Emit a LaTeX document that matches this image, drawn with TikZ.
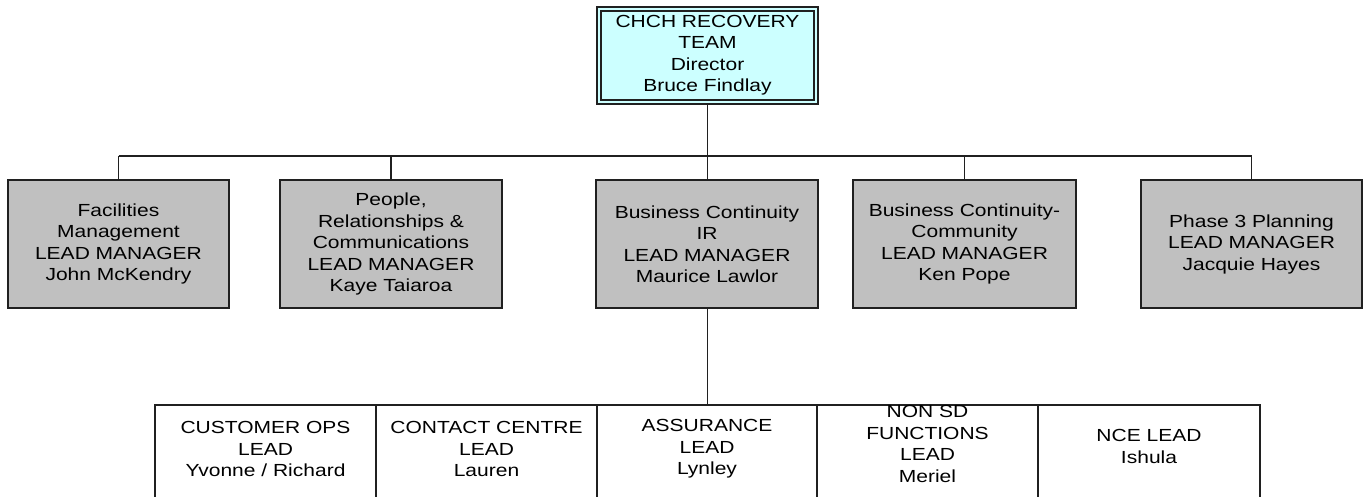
\documentclass[tikz,border=0pt]{standalone}
\usepackage{fontspec}
\setmainfont{Liberation Sans}[FakeStretch=1.2]
\definecolor{topfill}{HTML}{CCFFFF}
\definecolor{midfill}{HTML}{C0C0C0}
\definecolor{edge}{HTML}{202020}
\begin{document}
\begin{tikzpicture}[x=1pt,y=-1pt,
  lbl/.style={align=center,font=\fontsize{17.5}{21.5}\selectfont,inner sep=0pt},
  midbox/.style={draw=edge,line width=1.6pt,fill=midfill},
  lowbox/.style={draw=edge,line width=1.4pt,fill=white},
  conn/.style={draw=edge,line width=1.6pt}]
\useasboundingbox (0,0) rectangle (1368,497);
\clip (0,0) rectangle (1368,497);
% top box
\draw[draw=edge,line width=1.4pt,fill=topfill] (597,7) rectangle (818,104);
\draw[draw=edge,line width=1.2pt] (601,11) rectangle (814,100);
\node[lbl] (top) at (707.5,55) {CHCH RECOVERY\\TEAM\\Director\\Bruce Findlay};
% middle boxes
\draw[midbox] (8,180) rectangle (229,308);
\draw[midbox] (280,180) rectangle (502,308);
\draw[midbox] (596,180) rectangle (818,308);
\draw[midbox] (853,180) rectangle (1076,308);
\draw[midbox] (1141,180) rectangle (1362,308);
\node[lbl] (m1) at (118.5,244) {Facilities\\Management\\LEAD MANAGER\\John McKendry};
\node[lbl] (m2) at (391,244) {People,\\Relationships \&\\Communications\\LEAD MANAGER\\Kaye Taiaroa};
\node[lbl] (m3) at (707,244) {Business Continuity\\IR\\LEAD MANAGER\\Maurice Lawlor};
\node[lbl] (m4) at (964.5,244) {Business Continuity-\\Community\\LEAD MANAGER\\Ken Pope};
\node[lbl] (m5) at (1251.5,244) {Phase 3 Planning\\LEAD MANAGER\\Jacquie Hayes};
% coordinates for connectors
\coordinate (topb) at (707.5,104);
\coordinate (bus) at (707.5,156);
\coordinate (t1) at (118.5,180);
\coordinate (t2) at (391,180);
\coordinate (t3) at (707.5,180);
\coordinate (t4) at (964.5,180);
\coordinate (t5) at (1251.5,180);
\coordinate (b3) at (707.5,308);
\coordinate (lowtop) at (707.5,405);
\draw[conn] (topb) -- (t3);
\draw[conn] (t1 |- bus) -- (t5 |- bus);
\foreach \t in {t1,t2,t4,t5} \draw[conn] (\t |- bus) -- (\t);
\draw[conn] (b3) -- (lowtop);
% bottom boxes
\draw[lowbox] (155,405) rectangle (376,520);
\draw[lowbox] (376,405) rectangle (597,520);
\draw[lowbox] (597,405) rectangle (817,520);
\draw[lowbox] (817,405) rectangle (1038,520);
\draw[lowbox] (1038,405) rectangle (1260,520);
\node[lbl] (l1) at (265.5,449) {CUSTOMER OPS\\LEAD\\Yvonne / Richard};
\node[lbl] (l2) at (486.5,449) {CONTACT CENTRE\\LEAD\\Lauren};
\node[lbl] (l3) at (707,449) {ASSURANCE\\LEAD\\Lynley};
\node[lbl] (l4) at (927.5,444) {NON SD\\FUNCTIONS\\LEAD\\Meriel};
\node[lbl] (l5) at (1149,446.5) {NCE LEAD\\Ishula};
\end{tikzpicture}
\end{document}
